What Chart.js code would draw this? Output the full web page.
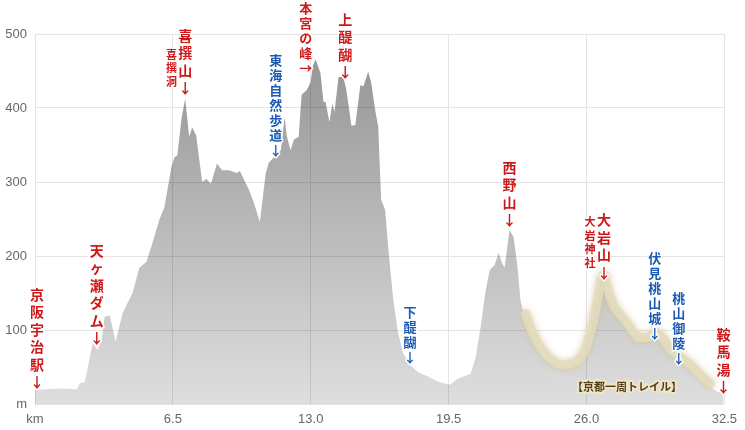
<!DOCTYPE html>
<html lang="ja">
<head>
<meta charset="utf-8">
<script src="https://cdn.jsdelivr.net/npm/chart.js@4.4.1/dist/chart.umd.min.js"></script>
<style>
body{margin:0;background:#fff;}
#wrap{width:745px;height:430px;}
</style>
</head>
<body>
<div id="wrap"><canvas id="profile" width="745" height="430"></canvas></div>
<script>
// distance along the route (km) and elevation (m)
const kmPoints = [
  0, 1.17, 1.97, 2.11, 2.35, 2.44, 2.72, 2.95, 3.14, 3.28,
  3.52, 3.80, 4.13, 4.60, 4.92, 5.25, 5.53, 5.86, 6.10, 6.24,
  6.43, 6.57, 6.71, 6.90, 7.08, 7.27, 7.41, 7.60, 7.88, 8.07,
  8.30, 8.58, 8.82, 9.15, 9.52, 9.66, 10.08, 10.32, 10.60, 10.88,
  11.02, 11.35, 11.59, 11.77, 11.87, 12.05, 12.20, 12.43, 12.57, 12.80,
  12.99, 13.09, 13.23, 13.46, 13.60, 13.70, 13.88, 14.02, 14.12, 14.31,
  14.54, 14.68, 14.92, 15.10, 15.34, 15.48, 15.71, 15.85, 16.04, 16.18,
  16.32, 16.51, 16.65, 16.89, 17.12, 17.35, 17.68, 18.06, 18.53, 19.00,
  19.56, 19.93, 20.54, 20.78, 21.01, 21.25, 21.44, 21.67, 21.86, 22.00,
  22.14, 22.37, 22.56, 22.75, 22.89, 23.08, 23.36, 23.69, 24.16, 24.62,
  25.09, 25.56, 25.89, 26.17, 26.41, 26.64, 26.78, 26.97, 27.20, 27.44,
  27.77, 28.05, 28.38, 28.85, 29.22, 29.64, 29.92, 30.39, 30.86, 31.33,
  31.80, 32.22, 32.46
];
const elevation = [
  19, 21, 20, 28, 30, 42, 82, 73, 86, 118,
  120, 84, 123, 150, 184, 192, 217, 249, 266, 289,
  320, 333, 336, 384, 413, 361, 374, 363, 300, 304,
  298, 325, 316, 316, 312, 315, 290, 272, 246, 312,
  326, 336, 343, 388, 362, 343, 357, 361, 418, 424,
  434, 456, 466, 447, 408, 408, 381, 406, 395, 442,
  442, 424, 376, 377, 431, 429, 449, 434, 397, 375,
  276, 262, 212, 141, 96, 69, 53, 43, 37, 30,
  26, 34, 41, 64, 104, 154, 181, 188, 204, 192,
  184, 235, 226, 185, 140, 118, 96, 77, 59, 50,
  49, 55, 69, 96, 127, 163, 171, 150, 131, 120,
  109, 97, 86, 86, 93, 82, 69, 59, 49, 35,
  23, 16, 16
];

// Kyoto trail section (highlighted)
const trailFrom = 23.0;
const trailTo = 31.8;

// place names, anchored at the arrow (km, m)
const placeNames = ['京阪宇治駅↓', '天ヶ瀬ダム↓', '喜撰山↓', '喜撰洞', '本宮の峰→', '上醍醐↓',
  '東海自然歩道↓', '下醍醐↓', '西野山↓', '大岩神社', '大岩山↓', '伏見桃山城↓', '桃山御陵↓', '鞍馬湯↓'];
const placeKm = [0.09, 2.91, 7.08, 6.43, 12.76, 14.63, 11.35, 17.68, 22.37, 26.17, 26.83, 29.22, 30.35, 32.46];
const placeElev = [30, 89, 427, 436, 454, 449, 343, 64, 249, 191, 178, 96, 62, 23];
const placeKind = ['peak', 'peak', 'peak', 'sub', 'mid', 'peak', 'path', 'path', 'peak', 'sub', 'peak', 'path', 'path', 'peak'];
const trailName = '【京都一周トレイル】';
const trailNameKm = 27.91;
const trailNameElev = 23;

const kindStyle = {
  peak: {color: 'rgb(206,24,24)', size: 14, step: 17.5},
  mid:  {color: 'rgb(206,24,24)', size: 13, step: 15},
  sub:  {color: 'rgb(206,24,24)', size: 11, step: 13.5},
  path: {color: 'rgb(28,90,180)', size: 13, step: 15}
};
const cjk = '"Noto Sans CJK JP", "Noto Sans", sans-serif';

let profile = kmPoints.map((k, i) => ({x: k, y: elevation[i]}));
let trail = profile.filter(p => p.x >= trailFrom && p.x <= trailTo);

const glow = {
  id: 'glow',
  beforeDatasetDraw(chart, args) {
    if (args.index !== 1) return;
    chart.ctx.save();
    chart.ctx.translate(1, -3);
    chart.ctx.shadowColor = 'rgba(205,195,150,0.9)';
    chart.ctx.shadowBlur = 7;
  },
  afterDatasetDraw(chart, args) {
    if (args.index !== 1) return;
    chart.ctx.restore();
  }
};

const names = {
  id: 'names',
  afterDatasetsDraw(chart) {
    let ctx = chart.ctx;
    let xs = chart.scales.x, ys = chart.scales.y;
    ctx.save();
    ctx.textAlign = 'center';
    ctx.textBaseline = 'middle';
    ctx.lineJoin = 'round';
    placeNames.forEach((name, i) => {
      let st = kindStyle[placeKind[i]];
      let chars = Array.from(name);
      let x = xs.getPixelForValue(placeKm[i]);
      let y = ys.getPixelForValue(placeElev[i]);
      ctx.font = 'bold ' + st.size + 'px ' + cjk;
      chars.forEach((c, j) => {
        let cy = y - (chars.length - 1 - j) * st.step;
        ctx.strokeStyle = 'rgba(255,255,255,0.95)';
        ctx.lineWidth = 3;
        ctx.strokeText(c, x, cy);
        ctx.fillStyle = st.color;
        ctx.fillText(c, x, cy);
      });
    });
    // trail caption
    let tx = xs.getPixelForValue(trailNameKm);
    let ty = ys.getPixelForValue(trailNameElev);
    ctx.font = 'bold 11px ' + cjk;
    ctx.strokeStyle = 'rgba(238,230,200,0.95)';
    ctx.lineWidth = 4;
    ctx.strokeText(trailName, tx, ty);
    ctx.fillStyle = 'rgb(85,62,20)';
    ctx.fillText(trailName, tx, ty);
    ctx.restore();
  }
};

new Chart(document.getElementById('profile'), {
  type: 'line',
  data: {
    datasets: [{
      data: profile,
      order: 1,
      fill: 'origin',
      borderWidth: 0,
      pointRadius: 0,
      tension: 0,
      backgroundColor: (c) => {
        let area = c.chart.chartArea;
        if (!area) return 'rgba(0,0,0,0.3)';
        let g = c.chart.ctx.createLinearGradient(0, area.top, 0, area.bottom);
        g.addColorStop(0, 'rgba(0,0,0,0.43)');
        g.addColorStop(1, 'rgba(0,0,0,0.13)');
        return g;
      }
    }, {
      data: trail,
      order: 0,
      fill: false,
      borderColor: 'rgba(228,220,190,0.85)',
      borderWidth: 9,
      borderCapStyle: 'round',
      borderJoinStyle: 'round',
      pointRadius: 0,
      tension: 0.2
    }]
  },
  options: {
    responsive: false,
    animation: false,
    layout: {padding: {top: 34, right: 13, left: 0, bottom: 0}},
    plugins: {
      legend: {display: false},
      tooltip: {enabled: false}
    },
    scales: {
      x: {
        type: 'linear',
        min: 0,
        max: 32.5,
        afterBuildTicks: (s) => { s.ticks = [0, 6.5, 13, 19.5, 26, 32.5].map(v => ({value: v})); },
        afterFit: (s) => { s.height = 26; },
        border: {display: false},
        grid: {color: '#e4e4e4', drawTicks: false},
        ticks: {
          padding: 8,
          color: '#666',
          font: {family: '"Liberation Sans", Arial, sans-serif', size: 13},
          callback: (v) => v === 0 ? 'km' : v.toFixed(1)
        }
      },
      y: {
        min: 0,
        max: 500,
        afterFit: (s) => { s.width = 35; },
        border: {display: false},
        grid: {color: '#e4e4e4', drawTicks: false},
        ticks: {
          stepSize: 100,
          padding: 8,
          color: '#666',
          font: {family: '"Liberation Sans", Arial, sans-serif', size: 13},
          callback: (v) => v === 0 ? 'm' : v
        }
      }
    }
  },
  plugins: [glow, names]
});
</script>
</body>
</html>
